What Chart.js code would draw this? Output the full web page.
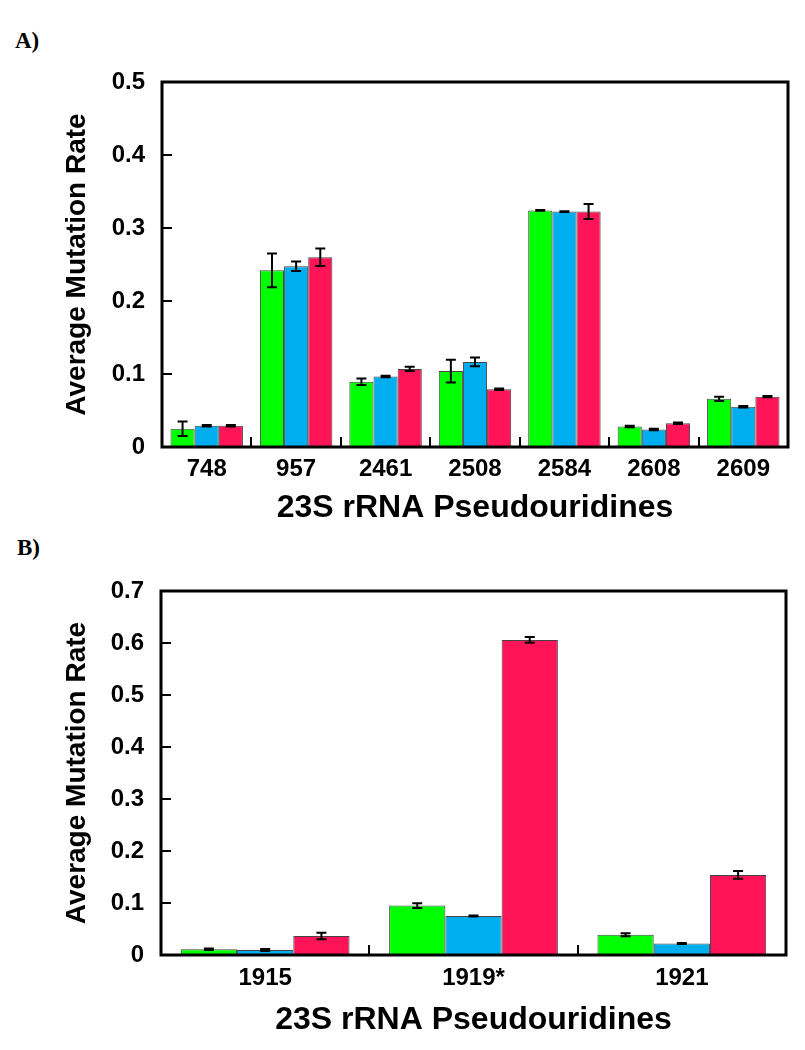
<!DOCTYPE html>
<html>
<head>
<meta charset="utf-8">
<script src="https://cdn.jsdelivr.net/npm/chart.js@4/dist/chart.umd.min.js"></script>
<style>
  html, body { margin: 0; padding: 0; background: #fff; }
  #page { position: relative; width: 805px; height: 1050px; overflow: hidden; }
  canvas { position: absolute; left: 0; }
  #chartA { top: 0; }
  #chartB { top: 530px; }
  .tag { position: absolute; font: bold 23px "Liberation Serif", serif; color: #000; }
</style>
</head>
<body>
<div id="page">
  <div class="tag" style="left:15px; top:28px;">A)</div>
  <canvas id="chartA" width="805" height="530"></canvas>
  <div class="tag" style="left:17px; top:535px;">B)</div>
  <canvas id="chartB" width="805" height="520"></canvas>
</div>
<script>
// Panel A - 23S rRNA sites
const sitesA = ['748', '957', '2461', '2508', '2584', '2608', '2609'];
const greenA = [0.025, 0.242, 0.0895, 0.104, 0.324, 0.028, 0.066];
const greenErrA = [0.01, 0.023, 0.0045, 0.0155, 0.0005, 0.001, 0.003];
const blueA = [0.029, 0.2475, 0.0965, 0.1165, 0.3225, 0.024, 0.055];
const blueErrA = [0.001, 0.0065, 0.001, 0.006, 0.0005, 0.001, 0.001];
const redA = [0.029, 0.26, 0.107, 0.079, 0.3225, 0.0325, 0.069];
const redErrA = [0.001, 0.012, 0.003, 0.001, 0.0103, 0.001, 0.001];

// Panel B - helix 69 sites
const sitesB = ['1915', '1919*', '1921'];
const greenB = [0.011, 0.095, 0.039];
const greenErrB = [0.0015, 0.0045, 0.003];
const blueB = [0.0095, 0.075, 0.022];
const blueErrB = [0.002, 0.001, 0.001];
const redB = [0.0365, 0.606, 0.154];
const redErrB = [0.0064, 0.0055, 0.0074];

const colors = ['#00ff00', '#00aeef', '#ff1458'];
const fontFam = '"Liberation Sans", Arial, sans-serif';

// frame, inside ticks, group separators and error bars
const framePlugin = {
  id: 'frame',
  afterDatasetsDraw(chart) {
    const { ctx, chartArea: a, scales: { x, y } } = chart;
    ctx.save();
    ctx.strokeStyle = '#000';

    // error bars
    ctx.lineWidth = 2;
    chart.data.datasets.forEach((ds, i) => {
      chart.getDatasetMeta(i).data.forEach((bar, j) => {
        const e = ds.errors[j];
        if (!e) return;
        const v = ds.data[j];
        const yt = y.getPixelForValue(v + e), yb = y.getPixelForValue(v - e);
        const cx = bar.x, cap = 5;
        ctx.beginPath();
        ctx.moveTo(cx, yt); ctx.lineTo(cx, yb);
        ctx.moveTo(cx - cap, yt); ctx.lineTo(cx + cap, yt);
        ctx.moveTo(cx - cap, yb); ctx.lineTo(cx + cap, yb);
        ctx.stroke();
      });
    });

    // y ticks pointing inward
    ctx.lineWidth = 2;
    y.ticks.forEach((t, k) => {
      if (t.value <= y.min || t.value >= y.max) return;
      const py = y.getPixelForTick(k);
      ctx.beginPath();
      ctx.moveTo(a.left, py); ctx.lineTo(a.left + 10, py);
      ctx.stroke();
    });

    // separators between groups
    for (let k = 1; k < x.ticks.length; k++) {
      const px = Math.round((x.getPixelForTick(k - 1) + x.getPixelForTick(k)) / 2);
      ctx.beginPath();
      ctx.moveTo(px, a.bottom); ctx.lineTo(px, a.bottom - 10);
      ctx.stroke();
    }

    // box
    ctx.lineWidth = 3;
    ctx.strokeRect(a.left, a.top, a.right - a.left, a.bottom - a.top);
    ctx.restore();
  }
};

function makeChart(id, labels, series, yMax, opts) {
  const datasets = series.map((s, i) => ({
    label: 'Series ' + (i + 1),
    data: s.data,
    errors: s.err,
    backgroundColor: colors[i],
    borderColor: '#444',
    borderWidth: 1,
    categoryPercentage: 0.81,
    barPercentage: 1.0
  }));
  return new Chart(document.getElementById(id), {
    type: 'bar',
    data: { labels, datasets },
    plugins: [framePlugin],
    options: {
      responsive: false,
      animation: false,
      layout: { padding: { top: opts.top, right: opts.right, left: 0, bottom: 0 } },
      plugins: { legend: { display: false }, tooltip: { enabled: false } },
      scales: {
        x: {
          grid: { display: false, drawTicks: false },
          border: { display: false },
          ticks: { color: '#000', padding: opts.tickPad, font: { family: fontFam, size: 24, weight: 'bold' } },
          title: {
            display: true, text: '23S rRNA Pseudouridines', color: '#000',
            padding: { top: 0, bottom: opts.titlePad },
            font: { family: fontFam, size: 32, weight: 'bold' }
          },
          afterFit(s) { s.height = opts.xHeight; }
        },
        y: {
          min: 0, max: yMax,
          grid: { display: false, drawTicks: false },
          border: { display: false },
          ticks: {
            stepSize: 0.1, color: '#000', padding: 17,
            font: { family: fontFam, size: 24, weight: 'bold' },
            callback: v => v === 0 ? '0' : v.toFixed(1)
          },
          title: {
            display: true, text: 'Average Mutation Rate', color: '#000',
            padding: { top: 60, bottom: 0 },
            font: { family: fontFam, size: 28, weight: 'bold' }
          },
          afterFit(s) { s.width = opts.yWidth; }
        }
      }
    }
  });
}

makeChart('chartA', sitesA, [
  { data: greenA, err: greenErrA },
  { data: blueA, err: blueErrA },
  { data: redA, err: redErrA }
], 0.5, { top: 82, right: 17, xHeight: 83, yWidth: 162, tickPad: 8, titlePad: 3 });

makeChart('chartB', sitesB, [
  { data: greenB, err: greenErrB },
  { data: blueB, err: blueErrB },
  { data: redB, err: redErrB }
], 0.7, { top: 61, right: 19, xHeight: 95, yWidth: 161, tickPad: 9, titlePad: 11 });
</script>
</body>
</html>
